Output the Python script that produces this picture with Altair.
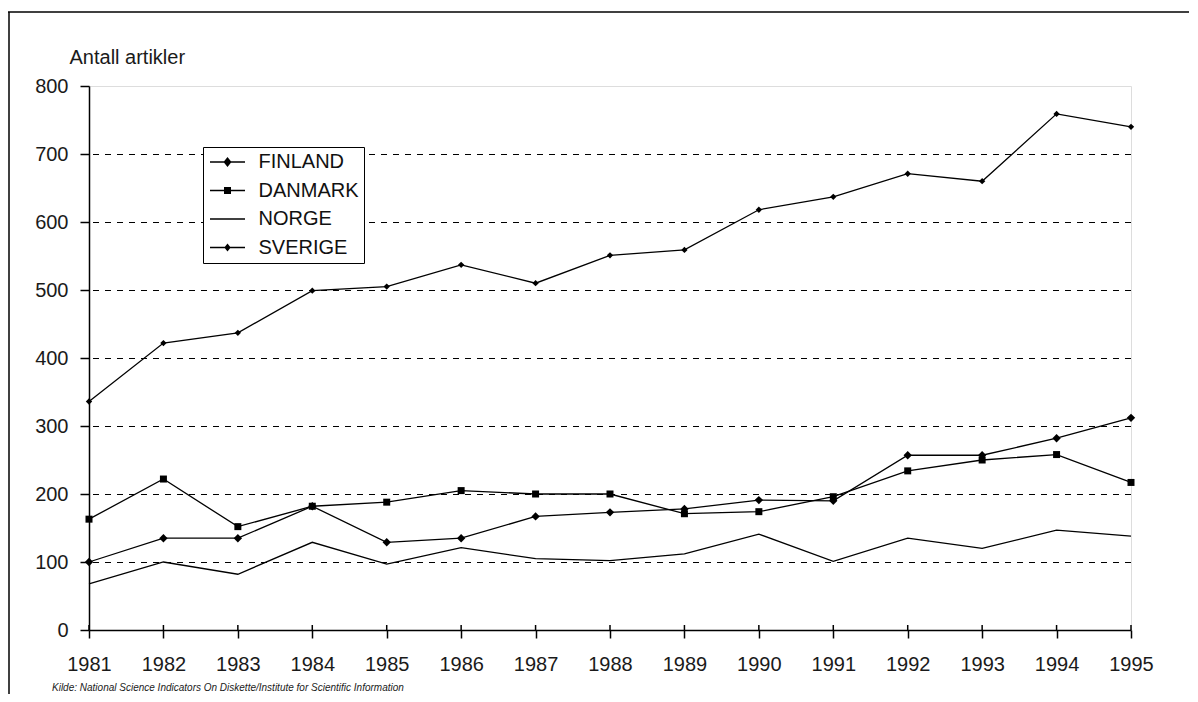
import altair as alt
import pandas as pd

years = list(range(1981, 1996))
finland = [100, 135, 135, 182, 129, 135, 167, 173, 178, 191, 190, 257, 257, 282, 312]
danmark = [163, 222, 152, 182, 188, 205, 200, 200, 171, 174, 196, 234, 250, 258, 217]
norge = [68, 100, 82, 129, 97, 121, 105, 102, 112, 141, 101, 135, 120, 147, 138]
sverige = [336, 422, 437, 499, 505, 537, 510, 551, 559, 618, 637, 671, 660, 759, 740]
series_names = ["FINLAND", "DANMARK", "NORGE", "SVERIGE"]
y_ticks = [0, 100, 200, 300, 400, 500, 600, 700, 800]
grid_vals = [100, 200, 300, 400, 500, 600, 700]
y_title = "Antall artikler"
note = "Kilde: National Science Indicators On Diskette/Institute for Scientific Information"

rows = []
for name, vals in zip(series_names, [finland, danmark, norge, sverige]):
    for yr, v in zip(years, vals):
        rows.append({"year": yr, "value": v, "series": name})
df = pd.DataFrame(rows)

FONT = "Liberation Sans"
W, H = 1042, 544
PAD_L, PAD_T, PAD_R, PAD_B = 81, 78, 58, 64

x_enc = alt.X("year:Q", scale=alt.Scale(domain=[1981, 1995], nice=False, zero=False),
              axis=alt.Axis(values=years, format="d", title=None, grid=False,
                            labelFlush=False, labelFont=FONT, labelFontSize=20,
                            labelColor="#1a1a1a", labelPadding=16, tickSize=8,
                            tickColor="black", tickWidth=1.5, domainColor="black",
                            domainWidth=1.5))
y_enc = alt.Y("value:Q", scale=alt.Scale(domain=[0, 800], nice=False),
              axis=alt.Axis(values=y_ticks, title=y_title, grid=False, labelFlush=False,
                            labelFont=FONT, labelFontSize=20, labelColor="#1a1a1a",
                            labelPadding=12, tickSize=9, tickColor="black", tickWidth=1.5,
                            domainColor="black", domainWidth=1.5,
                            titleAngle=0, titleX=-20, titleY=-23, titleAlign="left",
                            titleBaseline="alphabetic", titleFont=FONT, titleFontSize=20,
                            titleFontWeight="normal", titleColor="#1a1a1a"))

base = alt.Chart(df)

grid = alt.Chart(pd.DataFrame({"g": grid_vals})).mark_rule(
    color="black", strokeWidth=1, strokeDash=[6, 6], yOffset=0.5
).encode(y=alt.Y("g:Q", scale=alt.Scale(domain=[0, 800], nice=False)))

lines = base.mark_line(color="black", strokeWidth=1.3).encode(
    x=x_enc, y=y_enc, detail="series:N")

pts_fin = base.transform_filter(alt.datum.series == "FINLAND").mark_point(
    shape="diamond", filled=True, color="black", size=70, opacity=1).encode(x="year:Q", y="value:Q")
pts_dan = base.transform_filter(alt.datum.series == "DANMARK").mark_point(
    shape="square", filled=True, color="black", size=49, opacity=1).encode(x="year:Q", y="value:Q")
pts_sve = base.transform_filter(alt.datum.series == "SVERIGE").mark_point(
    shape="diamond", filled=True, color="black", size=40, opacity=1).encode(x="year:Q", y="value:Q")

line_rect = "M-1.75,-0.07L1.75,-0.07L1.75,0.07L-1.75,0.07Z"
shape_paths = [
    line_rect + "M0,-0.5L0.4,0L0,0.5L-0.4,0Z",
    line_rect + "M-0.35,-0.35L0.35,-0.35L0.35,0.35L-0.35,0.35Z",
    line_rect,
    line_rect + "M0,-0.4L0.32,0L0,0.4L-0.32,0Z",
]

legend_layer = base.mark_point(filled=True, color="black", opacity=0).encode(
    x="year:Q", y="value:Q",
    shape=alt.Shape("series:N", sort=series_names,
                    scale=alt.Scale(domain=series_names, range=shape_paths),
                    legend=alt.Legend(title=None, orient="none", legendX=114, legendY=61,
                                      padding=5, rowPadding=8.5, symbolSize=400,
                                      symbolOffset=9.5, labelOffset=21,
                                      labelFont=FONT, labelFontSize=20, labelColor="#111111",
                                      strokeColor="black", fillColor="white",
                                      symbolFillColor="black", symbolStrokeColor="black",
                                      symbolStrokeWidth=0, symbolOpacity=1,
                                      labelBaseline="middle")))

inner_ticks = alt.Chart(pd.DataFrame({"year": years})).mark_rule(
    color="black", strokeWidth=1.5).encode(
    x="year:Q", y=alt.value(H - 5), y2=alt.value(H))

one = pd.DataFrame({"t": [note]})
frame_top = alt.Chart(one).mark_rule(color="black", strokeWidth=1.5).encode(
    x=alt.value(-PAD_L), x2=alt.value(W + PAD_R), y=alt.value(-74))
frame_left = alt.Chart(one).mark_rule(color="black", strokeWidth=1.5).encode(
    x=alt.value(-PAD_L + 1), y=alt.value(-74), y2=alt.value(H + PAD_B))
footnote = alt.Chart(one).mark_text(
    align="left", baseline="alphabetic", font=FONT, fontSize=10, fontStyle="italic",
    color="#1a1a1a").encode(text="t:N", x=alt.value(-37), y=alt.value(H + PAD_B - 3))

chart = alt.layer(
    grid, lines, pts_fin, pts_dan, pts_sve, legend_layer, inner_ticks,
    frame_top, frame_left, footnote
).properties(
    width=W, height=H,
    autosize=alt.AutoSizeParams(type="none"),
    padding={"left": PAD_L, "top": PAD_T, "right": PAD_R, "bottom": PAD_B},
).configure_view(
    stroke="#999999", strokeWidth=1.5
).configure(background="white")

chart.save("out.html", embed_options={"renderer": "svg", "actions": False})
